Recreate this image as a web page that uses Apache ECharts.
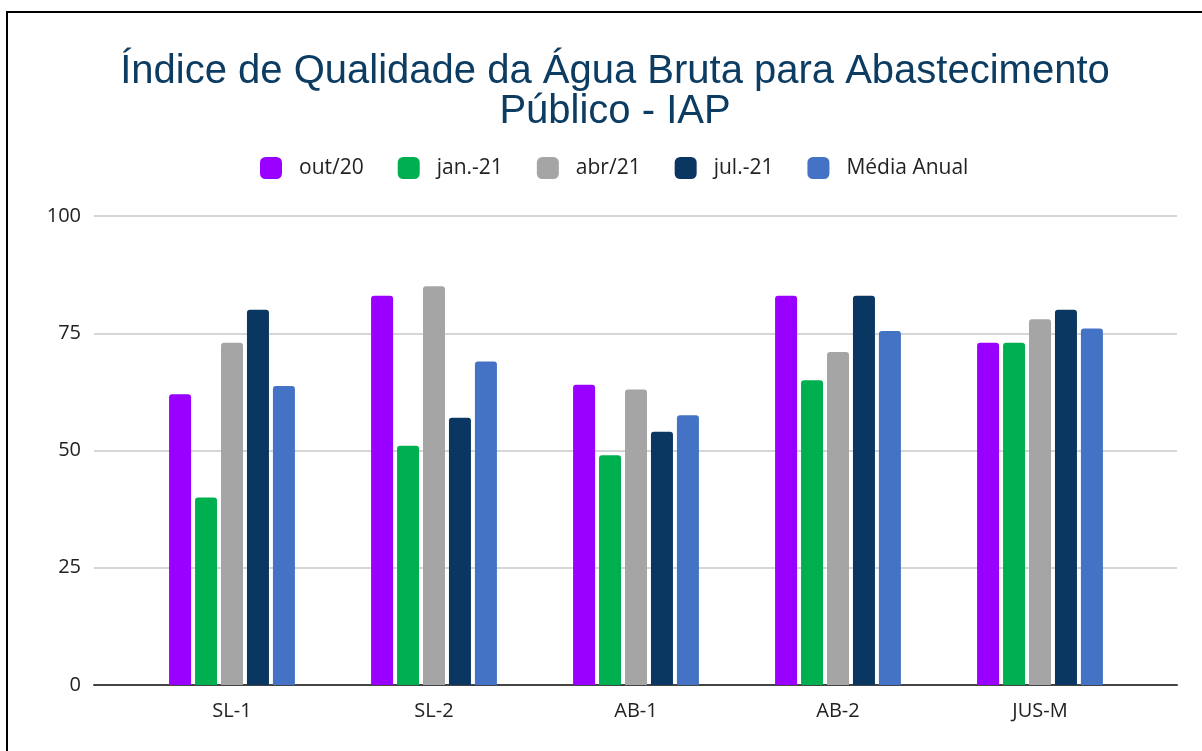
<!DOCTYPE html>
<html>
<head>
<meta charset="utf-8">
<script src="https://cdn.jsdelivr.net/npm/echarts@6/dist/echarts.min.js"></script>
<style>
html, body { margin: 0; padding: 0; background: #fff; }
#chart { width: 1202px; height: 751px; }
</style>
</head>
<body>
<div id="chart"></div>
<script>
var categories = ['SL-1', 'SL-2', 'AB-1', 'AB-2', 'JUS-M'];
var seriesNames = ['out/20', 'jan.-21', 'abr/21', 'jul.-21', 'Média Anual'];
var out20 = [62, 83, 64, 83, 73];
var jan21 = [40, 51, 49, 65, 73];
var abr21 = [73, 85, 63, 71, 78];
var jul21 = [80, 57, 54, 83, 80];
var mediaAnual = [63.75, 69, 57.5, 75.5, 76];
var colors = ['#9900ff', '#00b050', '#a5a5a5', '#0a3761', '#4472c4'];

var chart = echarts.init(document.getElementById('chart'));

var allData = [out20, jan21, abr21, jul21, mediaAnual];
var series = [];
for (var i = 0; i < allData.length; i++) {
	series.push({
		name: seriesNames[i],
		type: 'bar',
		xAxisIndex: 1,
		yAxisIndex: 1,
		barWidth: 22,
		barGap: '18%',
		itemStyle: { color: colors[i], borderRadius: [3, 3, 0, 0] },
		data: allData[i]
	});
}

var option = {
	animation: false,
	color: colors,
	title: {
		text: 'Índice de Qualidade da Água Bruta para Abastecimento\nPúblico - IAP',
		left: 610,
		top: 47,
		textAlign: 'center',
		textStyle: {
			fontFamily: 'Liberation Sans',
			fontWeight: 'normal',
			fontSize: 40,
			lineHeight: 40,
			color: '#0c3c62'
		}
	},
	legend: {
		data: seriesNames,
		left: 255,
		top: 152,
		icon: 'roundRect',
		itemWidth: 22,
		itemHeight: 22,
		itemGap: 34,
		textStyle: {
			fontFamily: 'Open Sans',
			fontSize: 21,
			color: '#222',
			padding: [0, 0, 0, 12]
		}
	},
	grid: [
		{ left: 94, right: 25, top: 216, bottom: 66 },
		{ left: 131, right: 61, top: 216, bottom: 66 }
	],
	xAxis: [{
		type: 'value',
		gridIndex: 0,
		min: 0,
		max: 1,
		axisLine: { show: true, onZero: false, lineStyle: { color: '#444', width: 2 } },
		axisTick: { show: false },
		axisLabel: { show: false },
		splitLine: { show: false }
	}, {
		type: 'category',
		gridIndex: 1,
		data: categories,
		axisLine: { show: false },
		axisTick: { show: false },
		axisLabel: {
			margin: 16,
			fontFamily: 'Open Sans',
			fontSize: 20,
			color: '#222'
		}
	}],
	yAxis: [{
		type: 'value',
		gridIndex: 0,
		min: 0,
		max: 100,
		interval: 25,
		axisLine: { show: false },
		axisTick: { show: false },
		axisLabel: {
			margin: 13,
			fontFamily: 'Open Sans',
			fontSize: 20,
			color: '#222'
		},
		splitLine: { lineStyle: { color: '#c8c8c8', width: 1.5 } }
	}, {
		type: 'value',
		gridIndex: 1,
		min: 0,
		max: 100,
		interval: 25,
		show: false,
		splitLine: { show: false }
	}],
	series: series,
	graphic: [{
		type: 'rect',
		z: 100,
		shape: { x: 7, y: 12, width: 1400, height: 900 },
		style: { fill: 'none', stroke: '#000', lineWidth: 2 }
	}]
};
chart.setOption(option);
</script>
</body>
</html>
